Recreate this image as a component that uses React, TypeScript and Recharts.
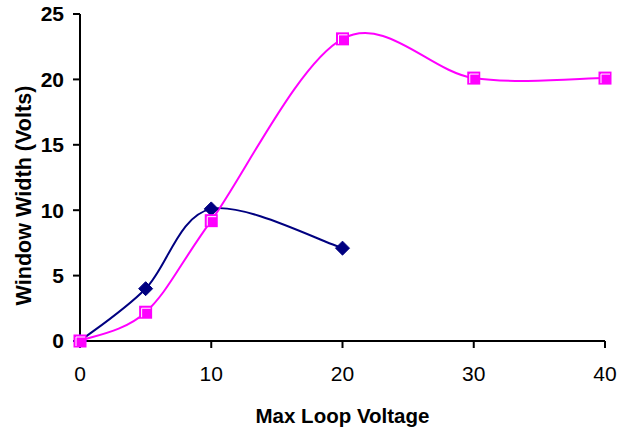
import React from "react";
import { LineChart, Line, XAxis, YAxis } from "recharts";

const xTicks = [0, 10, 20, 30, 40];
const yTicks = [0, 5, 10, 15, 20, 25];

const navyX = [0, 5, 10, 20];
const navyY = [0, 4.0, 10.1, 7.1];
const pinkX = [0, 5, 10, 20, 30, 40];
const pinkY = [0, 2.2, 9.2, 23.1, 20.1, 20.1];

const navyData = navyX.map((x, i) => ({ x, y: navyY[i] }));
const pinkData = pinkX.map((x, i) => ({ x, y: pinkY[i] }));

const FONT = '"Liberation Sans", Arial, sans-serif';

// Catmull-Rom (Excel-like smoothing) curve factory
const smoothCurve = (context: any) => {
  let pts: number[][] = [];
  return {
    areaStart() {},
    areaEnd() {},
    lineStart() {
      pts = [];
    },
    point(x: number, y: number) {
      pts.push([+x, +y]);
    },
    lineEnd() {
      const n = pts.length;
      if (!n) return;
      context.moveTo(pts[0][0], pts[0][1]);
      for (let i = 0; i < n - 1; i++) {
        const p0 = pts[Math.max(i - 1, 0)];
        const p1 = pts[i];
        const p2 = pts[i + 1];
        const p3 = pts[Math.min(i + 2, n - 1)];
        context.bezierCurveTo(
          p1[0] + (p2[0] - p0[0]) / 6,
          p1[1] + (p2[1] - p0[1]) / 6,
          p2[0] - (p3[0] - p1[0]) / 6,
          p2[1] - (p3[1] - p1[1]) / 6,
          p2[0],
          p2[1]
        );
      }
    },
  };
};

const Diamond = (props: any) => {
  const { cx, cy, index } = props;
  const r = 7;
  return (
    <path
      key={`d-${index}`}
      d={`M${cx},${cy - r}L${cx + r},${cy}L${cx},${cy + r}L${cx - r},${cy}Z`}
      fill="#000080"
      stroke="#000080"
      strokeWidth={1}
    />
  );
};

const Square = (props: any) => {
  const { cx, cy, index } = props;
  const h = 6.5;
  return (
    <g key={`s-${index}`}>
      <rect x={cx - h} y={cy - h} width={2 * h} height={2 * h} fill="#FF00FF" />
      <path
        d={`M${cx - h + 2.5},${cy + h - 1.5}V${cy - h + 2.5}H${cx + h - 1.5}`}
        stroke="#FFFFFF"
        strokeWidth={1}
        fill="none"
      />
    </g>
  );
};

const YLabel = (props: any) => {
  const vb = props.viewBox || { x: 0, y: 0, width: 0, height: 0 };
  const cx = vb.x + 31;
  const cy = vb.y + vb.height / 2 + 18;
  return (
    <text
      x={cx}
      y={cy}
      transform={`rotate(-90, ${cx}, ${cy})`}
      textAnchor="middle"
      fontFamily={FONT}
      fontWeight="bold"
      fontSize={21.6}
      fill="#000"
    >
      Window Width (Volts)
    </text>
  );
};

const XLabel = (props: any) => {
  const vb = props.viewBox || { x: 0, y: 0, width: 0, height: 0 };
  return (
    <text
      x={vb.x + vb.width / 2}
      y={vb.y + 82}
      textAnchor="middle"
      fontFamily={FONT}
      fontWeight="bold"
      fontSize={20.5}
      fill="#000"
    >
      Max Loop Voltage
    </text>
  );
};

export default function App() {
  return (
    <div style={{ position: "absolute", left: 0, top: 0, width: 632, height: 433, background: "#fff" }}>
      <LineChart width={632} height={433} margin={{ top: 14, right: 27, left: 0, bottom: 0 }}>
        <XAxis
          type="number"
          dataKey="x"
          domain={[0, 40]}
          ticks={xTicks}
          allowDuplicatedCategory={false}
          height={92}
          axisLine={{ stroke: "#000", strokeWidth: 2 }}
          tickLine={{ stroke: "#000", strokeWidth: 2 }}
          tickSize={7}
          tickMargin={18}
          tick={{ fill: "#000", fontFamily: FONT, fontSize: 21 }}
          label={<XLabel />}
        />
        <YAxis
          type="number"
          domain={[0, 25]}
          ticks={yTicks}
          width={80}
          axisLine={{ stroke: "#000", strokeWidth: 2 }}
          tickLine={{ stroke: "#000", strokeWidth: 2 }}
          tickSize={7}
          tickMargin={9}
          tick={{ fill: "#000", fontFamily: FONT, fontSize: 21, fontWeight: "bold" }}
          label={<YLabel />}
        />
        <Line
          data={navyData}
          dataKey="y"
          name="navy"
          type={smoothCurve as any}
          stroke="#000080"
          strokeWidth={2}
          dot={Diamond}
          activeDot={false}
          isAnimationActive={false}
        />
        <Line
          data={pinkData}
          dataKey="y"
          name="pink"
          type={smoothCurve as any}
          stroke="#FF00FF"
          strokeWidth={2}
          dot={Square}
          activeDot={false}
          isAnimationActive={false}
        />
      </LineChart>
    </div>
  );
}
